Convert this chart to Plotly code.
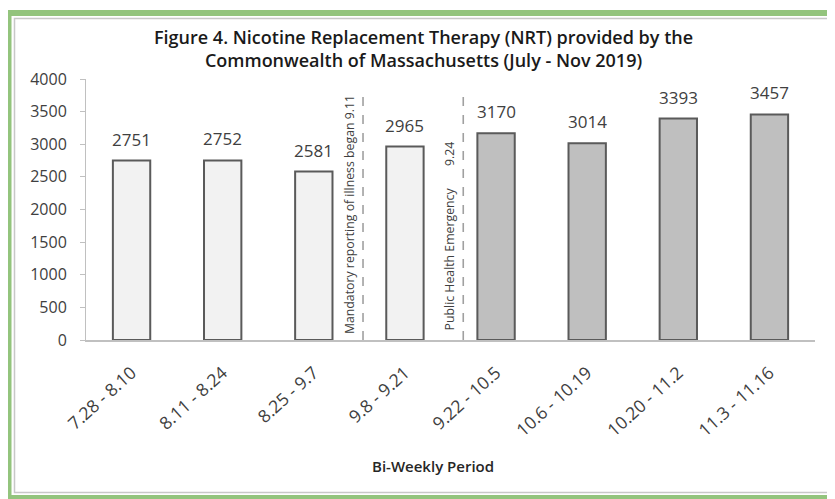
import plotly.graph_objects as go

periods = ["7.28 - 8.10", "8.11 - 8.24", "8.25 - 9.7", "9.8 - 9.21",
           "9.22 - 10.5", "10.6 - 10.19", "10.20 - 11.2", "11.3 - 11.16"]
nrt_counts = [2751, 2752, 2581, 2965, 3170, 3014, 3393, 3457]
phase = ["before", "before", "before", "before", "after", "after", "after", "after"]
y_ticks = [0, 500, 1000, 1500, 2000, 2500, 3000, 3500, 4000]

event_labels = ["Mandatory reporting of illness began 9.11", "Public Health Emergency       9.24"]
event_positions = [2.54, 3.64]
event_label_base = [60, 120]

# page body has an 8px margin; work in reference pixel coords and subtract it
O = 8
W, H = 835 - O, 499 - O
L = 86 - O
T = 79 - O
R = W - (815 - O)
B = H - (340 - O)
PW, PH = W - L - R, H - T - B

def px(x):
    return (x - O - L) / PW

def py(y):
    return (H - B - (y - O)) / PH

fill_map = {"before": "#f2f2f2", "after": "#bfbfbf"}
fig = go.Figure()
fig.add_trace(go.Bar(
    x=periods, y=nrt_counts,
    marker=dict(color=[fill_map[p] for p in phase],
                line=dict(color="#5a5a5a", width=2)),
    width=0.41, showlegend=False, hoverinfo="x+y",
))

font_main = "Open Sans, Roboto, DejaVu Sans, sans-serif"
annotations = []
for cat, v in zip(periods, nrt_counts):
    annotations.append(dict(x=cat, y=v, xref="x", yref="y", text=str(v),
                            showarrow=False, yanchor="bottom", yshift=8,
                            font=dict(family=font_main, size=17, color="#404040")))

shapes = []
for xpos, lab, base in zip(event_positions, event_labels, event_label_base):
    shapes.append(dict(type="line", xref="x", yref="y", x0=xpos, x1=xpos, y0=0, y1=3750,
                       line=dict(color="#a0a0a0", width=1.6, dash="dash")))
    annotations.append(dict(x=xpos, y=base, xref="x", yref="y", text=lab, textangle=-90,
                            showarrow=False, xanchor="right", yanchor="bottom", xshift=-3,
                            font=dict(family=font_main, size=12.3, color="#404040")))

# Title
annotations.append(dict(x=px(423), y=py(49), xref="paper", yref="paper",
                        text="Figure 4. Nicotine Replacement Therapy (NRT) provided by the<br>Commonwealth of Massachusetts (July - Nov 2019)",
                        showarrow=False, xanchor="center", yanchor="middle",
                        font=dict(family=font_main, size=18, color="#1a1a1a", weight=600)))
# x-axis title
annotations.append(dict(x=px(433), y=py(466), xref="paper", yref="paper",
                        text="Bi-Weekly Period", showarrow=False, xanchor="center", yanchor="middle",
                        font=dict(family=font_main, size=15, color="#262626", weight=600)))

# Frame
shapes.append(dict(type="rect", xref="paper", yref="paper",
                   x0=px(8.5), x1=px(860), y0=py(13), y1=py(498),
                   line=dict(color="#93c47d", width=6), fillcolor="rgba(0,0,0,0)", layer="above"))
shapes.append(dict(type="rect", xref="paper", yref="paper",
                   x0=px(14.5), x1=px(860), y0=py(18.5), y1=py(492.5),
                   line=dict(color="#c8c8c8", width=1.5), fillcolor="rgba(0,0,0,0)", layer="above"))

fig.update_layout(
    width=W, height=H,
    margin=dict(l=L, r=R, t=T, b=B, autoexpand=False),
    paper_bgcolor="white", plot_bgcolor="white",
    annotations=annotations, shapes=shapes,
    font=dict(family=font_main, color="#404040"),
    xaxis=dict(type="category", tickangle=-42, showline=True, linecolor="#c0c0c0", linewidth=1.5,
               ticks="", showgrid=False, tickfont=dict(size=17.5, color="#404040"),
               ticklabelstandoff=14, range=[-0.5, 7.5]),
    yaxis=dict(range=[0, 4000], tickvals=y_ticks, showgrid=False, zeroline=False,
               showline=True, linecolor="#c0c0c0", linewidth=1, ticks="outside", ticklen=5,
               tickcolor="#c0c0c0", tickfont=dict(size=16, color="#404040"),
               ticklabelstandoff=10),
)

fig.write_html("out.html")
